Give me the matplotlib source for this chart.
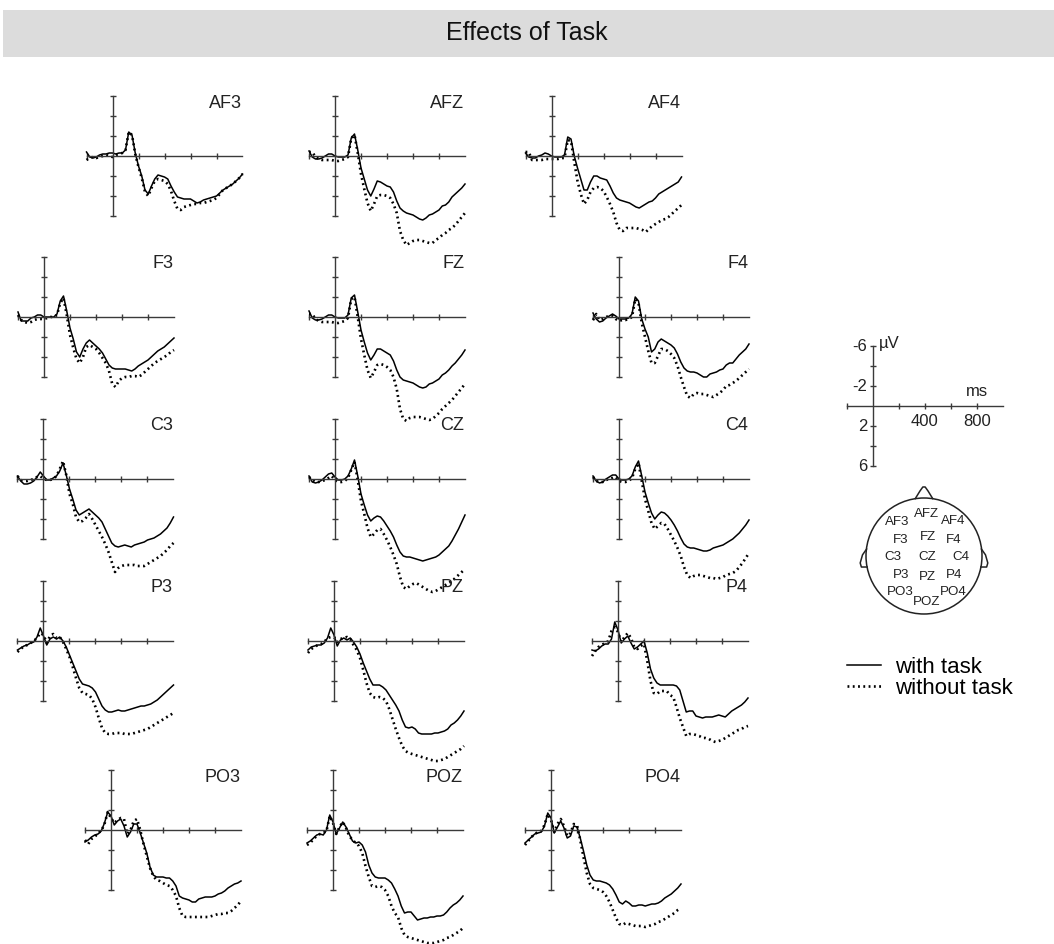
import numpy as np
import matplotlib
matplotlib.use("Agg")
import matplotlib.pyplot as plt
from matplotlib.patches import Rectangle, Circle

plt.rcParams['font.family'] = ['Liberation Sans', 'DejaVu Sans']

# ---------------- data ----------------
times = np.arange(-200, 1001, 25)   # ms

af3_with = [-0.4, 0.1, 0.2, 0.1, -0.1, -0.2, -0.2, -0.3,
            -0.3, -0.2, -0.3, -0.3, -0.6, -2.4, -2.1, -0.3,
            1.0, 2.0, 3.4, 3.8, 3.0, 2.3, 1.9, 2.0,
            2.1, 2.3, 3.0, 3.6, 4.1, 4.2, 4.3, 4.3,
            4.3, 4.5, 4.7, 4.6, 4.4, 4.3, 4.2, 4.1,
            4.0, 3.7, 3.4, 3.2, 3.0, 2.8, 2.5, 2.2,
            1.8]
af3_without = [0.4, 0.2, 0.1, 0.2, 0.1, 0.0, -0.1, 0.0,
               0.1, -0.1, -0.2, -0.3, -0.6, -2.4, -2.1, -0.2,
               1.1, 2.2, 3.6, 4.0, 3.2, 2.5, 2.3, 2.4,
               2.5, 2.8, 3.5, 4.5, 5.3, 5.4, 5.1, 5.0,
               4.9, 4.8, 4.8, 4.7, 4.7, 4.6, 4.5, 4.4,
               4.2, 3.8, 3.4, 3.2, 3.0, 2.8, 2.5, 2.2,
               1.8]
afz_with = [-0.5, 0.1, 0.3, 0.3, 0.2, 0.0, -0.2, -0.2,
            0.0, 0.1, 0.1, 0.1, -0.1, -1.8, -2.2, -0.6,
            1.2, 2.3, 3.4, 4.0, 3.3, 2.5, 2.6, 2.8,
            3.0, 3.1, 3.6, 4.5, 5.2, 5.5, 5.7, 5.8,
            5.9, 6.1, 6.3, 6.4, 6.2, 5.9, 5.8, 5.6,
            5.4, 5.0, 4.9, 4.6, 4.1, 3.8, 3.5, 3.2,
            2.8]
afz_without = [-0.4, -0.4, 0.1, 0.3, 0.4, 0.4, 0.4, 0.4,
               0.5, 0.5, 0.4, 0.3, 0.1, -1.8, -2.1, -0.3,
               1.8, 3.3, 4.7, 5.5, 4.8, 4.0, 3.9, 3.9,
               4.0, 4.2, 4.8, 5.7, 7.5, 8.4, 8.9, 8.7,
               8.5, 8.4, 8.4, 8.5, 8.6, 8.7, 8.7, 8.4,
               8.2, 7.9, 7.7, 7.4, 7.2, 6.9, 6.5, 6.1,
               5.7]
af4_with = [-0.3, 0.1, 0.2, 0.2, 0.0, -0.1, -0.3, -0.2,
            0.0, 0.1, 0.1, 0.1, -0.1, -1.9, -1.7, 0.0,
            1.2, 2.3, 3.4, 3.4, 2.6, 2.0, 2.0, 2.2,
            2.3, 2.4, 3.0, 3.7, 4.2, 4.4, 4.5, 4.6,
            4.7, 4.9, 5.1, 5.2, 5.0, 4.8, 4.6, 4.5,
            4.2, 3.8, 3.6, 3.4, 3.2, 3.0, 2.8, 2.6,
            2.1]
af4_without = [-0.4, -0.4, 0.4, 0.4, 0.4, 0.4, 0.3, 0.3,
               0.3, 0.3, 0.3, 0.2, 0.2, -1.6, -1.5, 0.6,
               2.5, 3.8, 4.8, 4.4, 3.6, 3.2, 3.1, 3.2,
               3.5, 4.1, 4.8, 5.6, 6.7, 7.4, 7.5, 7.2,
               7.2, 7.2, 7.2, 7.3, 7.4, 7.6, 7.3, 7.0,
               6.8, 6.6, 6.4, 6.3, 6.1, 5.8, 5.5, 5.2,
               4.9]
f3_with = [-0.5, 0.4, 0.4, 0.4, 0.1, 0.0, -0.2, -0.2,
           0.0, 0.0, 0.0, 0.0, -0.3, -1.6, -2.1, -0.6,
           1.1, 2.2, 3.5, 4.0, 3.2, 2.6, 2.3, 2.6,
           2.9, 3.2, 3.6, 4.2, 4.8, 5.1, 5.2, 5.2,
           5.2, 5.2, 5.3, 5.4, 5.2, 4.9, 4.7, 4.5,
           4.3, 4.0, 3.7, 3.4, 3.2, 3.0, 2.7, 2.4,
           2.1]
f3_without = [-0.2, 0.3, 0.5, 0.6, 0.5, 0.3, 0.2, 0.2,
              0.2, 0.1, 0.0, 0.0, -0.2, -1.4, -1.9, -0.2,
              1.8, 3.1, 4.2, 4.6, 4.0, 3.0, 2.8, 3.0,
              3.2, 3.6, 4.1, 4.6, 5.4, 6.7, 7.0, 6.4,
              6.1, 6.0, 6.0, 5.9, 5.9, 6.0, 5.8, 5.5,
              5.2, 4.9, 4.6, 4.4, 4.2, 4.0, 3.8, 3.5,
              3.3]
fz_with = [-0.6, 0.1, 0.3, 0.3, 0.2, 0.0, -0.2, -0.2,
           0.0, 0.1, 0.1, 0.1, -0.2, -1.9, -2.2, -0.5,
           1.3, 2.5, 3.6, 4.3, 3.8, 3.2, 3.2, 3.4,
           3.6, 3.8, 4.4, 5.3, 6.0, 6.3, 6.4, 6.5,
           6.6, 6.8, 7.0, 7.1, 7.0, 6.7, 6.6, 6.4,
           6.2, 5.8, 5.6, 5.3, 4.9, 4.6, 4.2, 3.8,
           3.3]
fz_without = [-0.3, -0.3, 0.2, 0.4, 0.5, 0.5, 0.5, 0.5,
              0.6, 0.6, 0.5, 0.4, 0.1, -1.8, -2.0, 0.0,
              2.2, 3.8, 5.3, 6.1, 5.5, 4.8, 4.7, 4.8,
              5.0, 5.3, 6.0, 7.2, 9.2, 10.2, 10.4, 10.1,
              10.0, 10.0, 10.0, 10.1, 10.2, 10.3, 10.2, 9.9,
              9.6, 9.2, 8.9, 8.6, 8.3, 7.9, 7.5, 7.1,
              6.7]
f4_with = [-0.4, 0.2, 0.5, 0.4, 0.1, -0.1, -0.3, -0.1,
           0.2, 0.2, 0.2, 0.1, -0.3, -2.0, -1.6, 0.2,
           1.2, 2.0, 3.5, 3.2, 2.5, 2.2, 2.4, 2.6,
           2.8, 3.1, 3.7, 4.5, 5.1, 5.4, 5.5, 5.5,
           5.6, 5.8, 6.0, 6.0, 5.7, 5.6, 5.5, 5.3,
           5.2, 4.8, 4.6, 4.6, 4.2, 3.8, 3.5, 3.2,
           2.7]
f4_without = [0.3, -0.3, 0.3, 0.2, 0.0, -0.1, -0.1, 0.2,
              0.4, 0.3, 0.3, 0.2, 0.0, -1.8, -1.4, 0.6,
              2.0, 3.4, 4.6, 4.6, 3.9, 3.2, 3.2, 3.4,
              3.7, 4.1, 4.9, 6.0, 7.0, 7.9, 8.1, 7.7,
              7.6, 7.7, 7.7, 7.8, 7.9, 8.0, 7.8, 7.6,
              7.3, 6.9, 6.8, 6.6, 6.4, 6.1, 5.8, 5.5,
              5.2]
c3_with = [-0.3, 0.2, 0.5, 0.5, 0.4, 0.2, -0.2, -0.7,
           -0.3, 0.1, 0.1, -0.1, -0.3, -0.8, -1.6, -0.4,
           1.0, 2.0, 3.1, 3.6, 3.4, 3.2, 3.0, 3.3,
           3.6, 3.9, 4.3, 5.0, 5.7, 6.4, 6.7, 6.8,
           6.7, 6.6, 6.7, 6.8, 6.6, 6.5, 6.4, 6.3,
           6.1, 6.0, 5.9, 5.7, 5.5, 5.2, 4.9, 4.4,
           3.8]
c3_without = [-0.3, 0.1, 0.2, 0.2, 0.1, 0.0, -0.2, -0.3,
              0.0, 0.1, 0.1, 0.0, -0.3, -1.0, -1.8, -0.4,
              1.5, 2.5, 3.8, 4.3, 4.2, 3.9, 3.5, 4.0,
              4.6, 5.2, 5.8, 6.5, 7.3, 8.3, 9.3, 8.9,
              8.7, 8.6, 8.6, 8.6, 8.6, 8.7, 8.7, 8.7,
              8.5, 8.3, 8.1, 7.9, 7.7, 7.4, 7.1, 6.7,
              6.4]
cz_with = [-0.3, 0.3, 0.4, 0.3, 0.1, -0.2, -0.5, -0.6,
           -0.2, 0.1, 0.1, 0.0, -0.3, -1.0, -1.9, -0.3,
           1.5, 2.6, 3.6, 4.2, 3.9, 3.7, 3.8, 4.2,
           4.7, 5.2, 5.8, 6.6, 7.3, 7.7, 7.8, 7.8,
           7.9, 8.0, 8.1, 8.2, 8.1, 8.0, 7.9, 7.8,
           7.6, 7.3, 7.0, 6.7, 6.2, 5.6, 5.0, 4.3,
           3.6]
cz_without = [-0.2, 0.1, 0.3, 0.3, 0.2, 0.1, -0.1, -0.3,
              0.1, 0.3, 0.3, 0.2, -0.1, -0.9, -1.7, 0.1,
              2.2, 3.5, 4.9, 5.8, 5.5, 5.1, 5.0, 5.5,
              6.1, 6.8, 7.6, 8.5, 9.8, 10.8, 11.0, 10.7,
              10.5, 10.4, 10.6, 10.8, 11.0, 11.2, 11.3, 11.2,
              11.0, 10.8, 10.6, 10.4, 10.2, 9.9, 9.6, 9.3,
              9.0]
c4_with = [-0.3, 0.2, 0.4, 0.3, 0.0, -0.2, -0.4, -0.4,
           0.0, 0.1, 0.1, 0.0, -0.3, -1.2, -1.8, -0.3,
           1.3, 2.4, 3.4, 4.0, 3.6, 3.3, 3.4, 3.7,
           4.1, 4.6, 5.2, 5.9, 6.5, 6.8, 6.9, 6.9,
           7.0, 7.1, 7.2, 7.2, 7.1, 6.9, 6.8, 6.7,
           6.6, 6.4, 6.2, 6.0, 5.7, 5.4, 5.0, 4.6,
           4.1]
c4_without = [-0.2, 0.2, 0.3, 0.3, 0.1, 0.0, -0.1, -0.2,
              0.2, 0.3, 0.3, 0.2, -0.1, -1.0, -1.6, 0.2,
              2.0, 3.2, 4.4, 5.0, 4.7, 4.4, 4.5, 5.0,
              5.6, 6.2, 6.9, 7.7, 8.8, 9.6, 9.9, 9.7,
              9.6, 9.6, 9.7, 9.8, 9.9, 9.9, 10.0, 9.9,
              9.8, 9.6, 9.5, 9.4, 9.2, 8.8, 8.4, 7.9,
              7.4]
p3_with = [0.9, 0.7, 0.5, 0.4, 0.2, 0.1, -0.4, -1.3,
           -0.5, 0.4, -0.2, -0.4, -0.2, -0.4, 0.0, 0.6,
           1.4, 2.2, 3.0, 3.8, 4.3, 4.4, 4.5, 4.7,
           5.1, 5.8, 6.5, 6.9, 7.1, 7.1, 7.0, 6.9,
           7.0, 7.0, 6.9, 6.8, 6.7, 6.6, 6.5, 6.5,
           6.4, 6.3, 6.1, 5.9, 5.6, 5.3, 5.0, 4.7,
           4.4]
p3_without = [1.1, 0.8, 0.5, 0.4, 0.2, 0.0, -0.3, -0.8,
              -0.6, 0.2, -0.5, -0.7, -0.3, -0.4, 0.1, 0.8,
              1.6, 2.6, 3.7, 4.7, 5.2, 5.3, 5.4, 5.8,
              6.6, 7.7, 8.7, 9.2, 9.3, 9.3, 9.2, 9.2,
              9.2, 9.3, 9.3, 9.3, 9.2, 9.1, 9.0, 8.9,
              8.8, 8.6, 8.4, 8.2, 8.0, 7.8, 7.6, 7.4,
              7.2]
pz_with = [0.9, 0.6, 0.5, 0.4, 0.4, 0.2, -0.3, -1.3,
           -0.6, 0.5, -0.1, -0.3, -0.1, -0.3, 0.1, 0.6,
           1.3, 2.2, 3.0, 3.8, 4.4, 4.4, 4.4, 4.6,
           4.9, 5.4, 5.9, 6.4, 7.0, 7.9, 8.6, 8.7,
           8.6, 8.8, 9.2, 9.3, 9.3, 9.3, 9.3, 9.2,
           9.2, 9.1, 9.0, 8.8, 8.4, 8.2, 7.9, 7.5,
           7.0]
pz_without = [1.2, 0.8, 0.6, 0.4, 0.3, 0.1, -0.3, -0.4,
              -0.4, 0.1, -0.2, -0.3, -0.4, -0.2, 0.4, 0.9,
              1.7, 2.9, 4.2, 5.2, 5.6, 5.7, 5.6, 5.7,
              6.0, 6.8, 7.8, 8.8, 9.7, 10.5, 11.0, 11.2,
              11.3, 11.4, 11.5, 11.6, 11.7, 11.8, 11.9, 12.0,
              12.0, 11.9, 11.8, 11.6, 11.4, 11.2, 11.0, 10.8,
              10.5]
p4_with = [0.9, 1.0, 0.8, 0.5, 0.3, 0.3, -0.2, -1.9,
           -1.1, 0.2, -0.2, -0.5, 0.2, 0.8, 0.6, 0.3,
           0.0, 1.2, 2.8, 3.7, 4.2, 4.4, 4.4, 4.4,
           4.4, 4.4, 4.5, 4.9, 6.0, 7.1, 7.0, 7.0,
           7.5, 7.6, 7.7, 7.6, 7.6, 7.6, 7.5, 7.4,
           7.5, 7.6, 7.3, 7.0, 6.8, 6.6, 6.4, 6.1,
           5.7]
p4_without = [1.5, 1.0, 0.6, 0.4, 0.2, 0.0, -1.0, -1.4,
              -0.9, 0.1, -0.4, -0.8, -0.3, 0.6, 0.8, 0.5,
              0.3, 2.0, 4.0, 5.2, 5.3, 5.0, 5.0, 5.0,
              5.4, 5.6, 6.6, 7.7, 8.6, 9.5, 9.3, 9.3,
              9.4, 9.5, 9.7, 9.7, 9.8, 10.0, 10.1, 10.0,
              9.9, 9.7, 9.5, 9.3, 9.1, 8.9, 8.8, 8.6,
              8.5]
po3_with = [1.2, 1.0, 0.7, 0.5, 0.4, 0.1, -0.7, -1.8,
            -1.4, -0.5, -0.9, -1.1, -0.4, 0.7, 0.2, -0.6,
            -0.6, 0.3, 1.3, 2.3, 3.7, 4.5, 4.7, 4.7,
            4.7, 4.8, 4.8, 5.1, 5.6, 6.6, 6.8, 6.9,
            7.0, 7.2, 7.2, 6.9, 6.8, 6.7, 6.7, 6.7,
            6.6, 6.4, 6.3, 6.1, 5.8, 5.6, 5.4, 5.3,
            5.1]
po3_without = [1.0, 1.4, 0.9, 0.7, 0.3, 0.1, -0.6, -1.8,
               -1.2, -0.7, -1.0, -1.2, -1.1, 0.4, 0.0, -0.9,
               -1.1, 0.0, 1.4, 2.6, 3.8, 4.6, 5.0, 5.1,
               5.3, 5.5, 5.6, 6.0, 6.6, 7.8, 8.6, 8.7,
               8.7, 8.7, 8.7, 8.7, 8.7, 8.7, 8.7, 8.6,
               8.5, 8.4, 8.4, 8.3, 8.3, 8.1, 7.8, 7.5,
               7.1]
poz_with = [1.3, 1.1, 0.8, 0.5, 0.4, 0.5, 0.0, -1.5,
            -0.8, 0.4, -0.2, -0.8, -0.3, 0.4, 1.1, 1.3,
            1.2, 1.5, 2.2, 3.5, 4.3, 4.7, 4.8, 4.8,
            4.8, 5.0, 5.3, 5.9, 6.6, 7.6, 8.3, 8.2,
            8.2, 8.6, 9.0, 8.9, 8.8, 8.8, 8.7, 8.7,
            8.6, 8.6, 8.5, 8.2, 7.8, 7.5, 7.3, 7.0,
            6.6]
poz_without = [1.5, 1.3, 0.9, 0.6, 0.4, 0.3, 0.1, -1.4,
               -0.7, 0.4, -0.3, -0.8, -0.2, 0.6, 1.0, 1.3,
               1.6, 2.3, 3.6, 4.7, 5.6, 5.7, 5.6, 5.7,
               6.0, 6.6, 7.6, 8.3, 8.7, 9.8, 10.5, 10.7,
               10.8, 10.9, 11.0, 11.1, 11.2, 11.3, 11.3, 11.3,
               11.2, 11.1, 11.0, 10.8, 10.7, 10.5, 10.3, 10.1,
               9.8]
po4_with = [1.3, 1.0, 0.7, 0.4, 0.3, 0.2, -0.4, -1.7,
            -1.2, 0.3, -0.3, -0.9, -0.2, 0.8, 0.6, -0.4,
            -0.3, 0.8, 2.1, 3.5, 4.5, 5.0, 5.1, 5.1,
            5.2, 5.3, 5.5, 5.9, 6.5, 7.2, 7.4, 7.1,
            7.3, 7.6, 7.6, 7.5, 7.5, 7.6, 7.5, 7.4,
            7.4, 7.3, 7.1, 6.8, 6.6, 6.4, 6.1, 5.8,
            5.4]
po4_without = [1.5, 1.1, 0.7, 0.4, 0.2, 0.1, -0.5, -1.6,
               -1.0, 0.2, -0.6, -1.1, -0.4, 0.6, 0.3, -0.6,
               -0.5, 1.0, 2.7, 4.3, 5.4, 5.8, 5.9, 6.0,
               6.2, 6.6, 7.2, 8.0, 8.8, 9.4, 9.5, 9.3,
               9.4, 9.5, 9.6, 9.6, 9.6, 9.7, 9.6, 9.5,
               9.4, 9.2, 9.1, 8.9, 8.7, 8.5, 8.3, 8.0,
               7.8]

channel_names = ["AF3", "AFZ", "AF4", "F3", "FZ", "F4", "C3", "CZ", "C4",
                 "P3", "PZ", "P4", "PO3", "POZ", "PO4"]
with_task = [af3_with, afz_with, af4_with, f3_with, fz_with, f4_with,
             c3_with, cz_with, c4_with, p3_with, pz_with, p4_with,
             po3_with, poz_with, po4_with]
without_task = [af3_without, afz_without, af4_without, f3_without, fz_without,
                f4_without, c3_without, cz_without, c4_without, p3_without,
                pz_without, p4_without, po3_without, poz_without, po4_without]

# electrode positions on the schematic head (unit radius)
head_xy = {"AF3": (-0.47, 0.59), "AFZ": (0.05, 0.72), "AF4": (0.51, 0.61),
           "F3": (-0.40, 0.28), "FZ": (0.07, 0.32), "F4": (0.51, 0.28),
           "C3": (-0.53, -0.02), "CZ": (0.06, -0.02), "C4": (0.63, -0.02),
           "P3": (-0.40, -0.32), "PZ": (0.06, -0.37), "P4": (0.51, -0.33),
           "PO3": (-0.41, -0.62), "POZ": (0.05, -0.79), "PO4": (0.51, -0.62)}

scale_y_labels = [-6, -2, 2, 6]
scale_x_labels = [400, 800]

# ---------------- layout ----------------
W, H = 1054, 944
fig = plt.figure(figsize=(W / 100, H / 100), dpi=100)
fig.patch.set_facecolor("white")

# panel origins (pixel position of 0 ms / 0 uV)
origins = [(112.5, 156), (335, 156), (551.5, 156),
           (44, 317), (335, 317), (619, 317),
           (43.5, 479), (335, 479), (619, 479),
           (43.5, 641), (334, 641), (618, 641),
           (111, 830), (333, 830), (551, 830)]

PX_MS, PX_UV = 0.13, 10.0
XL = (-240, 1040)
YL = (14, -8)
AXC = "#3a3a3a"
TXC = "#222222"


def add_panel(ox, oy):
    left = ox + XL[0] * PX_MS
    top = oy + YL[1] * PX_UV
    w = (XL[1] - XL[0]) * PX_MS
    h = (YL[0] - YL[1]) * PX_UV
    ax = fig.add_axes([left / W, 1 - (top + h) / H, w / W, h / H])
    ax.set_xlim(*XL)
    ax.set_ylim(*YL)
    ax.patch.set_alpha(0)
    for s in ["top", "right"]:
        ax.spines[s].set_visible(False)
    ax.spines["left"].set_position(("data", 0))
    ax.spines["left"].set_bounds(-6, 6)
    ax.spines["bottom"].set_position(("data", 0))
    ax.spines["bottom"].set_bounds(-200, 1000)
    for s in ["left", "bottom"]:
        ax.spines[s].set_color(AXC)
        ax.spines[s].set_linewidth(1.0)
    ax.set_xticks([-200, 200, 400, 600, 800])
    ax.set_yticks([-6, -4, -2, 2, 4, 6])
    ax.tick_params(direction="inout", length=5, width=1.0, color=AXC,
                   labelbottom=False, labelleft=False)
    return ax


handles = None
for name, w_vals, wo_vals, (ox, oy) in zip(channel_names, with_task,
                                           without_task, origins):
    ax = add_panel(ox, oy)
    l1, = ax.plot(times, w_vals, color="black", lw=1.1, clip_on=False,
                  solid_joinstyle="round")
    l2, = ax.plot(times, wo_vals, color="black", lw=1.9, clip_on=False,
                  linestyle=(0, (0.7, 1.3)))
    if handles is None:
        handles = [l1, l2]
    ax.text(995, -5.3, name, ha="right", va="center", fontsize=13,
            color=TXC)

# title band
fig.add_artist(Rectangle((3 / W, 1 - 57 / H), 1 - 3 / W, 47 / H,
                         transform=fig.transFigure, facecolor="#dcdcdc",
                         edgecolor="none", zorder=0))
fig.text(527 / W, 1 - 33 / H, "Effects of Task", ha="center", va="center",
         fontsize=18, color="#111111")

# scale bar
sax = add_panel(872.7, 406)
for v in scale_y_labels:
    sax.text(-40, v, str(v), ha="right", va="center", fontsize=12,
             color=TXC)
sax.text(50, -6.3, "µV", ha="left", va="center", fontsize=12, color=TXC)
sax.text(800, -1.5, "ms", ha="center", va="center", fontsize=12, color=TXC)
for v in scale_x_labels:
    sax.text(v, 1.5, str(v), ha="center", va="center", fontsize=12,
             color=TXC)

# schematic head
R = 58.0
hc = (924, 556)
hax = fig.add_axes([(hc[0] - 80) / W, 1 - (hc[1] + 80) / H, 160 / W, 160 / H])
hax.set_xlim(-80 / R, 80 / R)
hax.set_ylim(-80 / R, 80 / R)
hax.axis("off")
hax.patch.set_alpha(0)
hax.add_patch(Circle((0, 0), 1.0, fill=False, lw=1.1, color=TXC))
nose_x = [-0.15, -0.07, -0.02, 0.02, 0.07, 0.15]
nose_y = [0.99, 1.12, 1.19, 1.19, 1.12, 0.99]
hax.plot(nose_x, nose_y, color=TXC, lw=1.1)
ear_x = [-0.99, -1.06, -1.10, -1.08, -0.98]
ear_y = [0.12, 0.02, -0.12, -0.19, -0.19]
hax.plot(ear_x, ear_y, color=TXC, lw=1.1)
hax.plot([-x for x in ear_x], ear_y, color=TXC, lw=1.1)
for name, (x, y) in head_xy.items():
    hax.text(x, y, name, ha="center", va="center", fontsize=9.6, color=TXC)

# legend
fig.legend(handles=handles, labels=["with task", "without task"],
           loc="upper left", bbox_to_anchor=(847 / W, 1 - 657 / H),
           frameon=False, fontsize=16, handlelength=1.55,
           handletextpad=0.6, labelspacing=0.0, borderpad=0,
           borderaxespad=0)

fig.savefig("out.png", dpi=100)
